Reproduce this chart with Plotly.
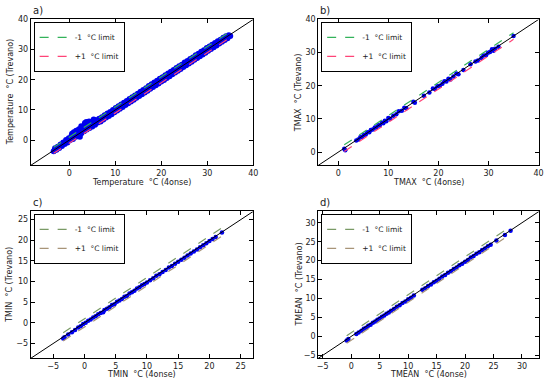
import numpy as np
import plotly.graph_objects as go

# ---------------- data ----------------
xa = [-3.4,-3.1,-2.8,-2.5,-2.2,-1.9,-1.6,-1.3,-1.0,-0.7,-0.4,-0.1,0.2,0.5,0.8,1.1,1.4,1.7,2.0,2.3,
      2.6,2.9,3.2,3.5,3.8,4.1,4.4,4.7,5.0,5.3,5.6,5.9,6.2,6.5,6.8,7.1,7.4,7.7,8.0,8.3,
      8.6,8.9,9.2,9.5,9.8,10.1,10.4,10.7,11.0,11.3,11.6,11.9,12.2,12.5,12.8,13.1,13.4,13.7,14.0,14.3,
      14.6,14.9,15.2,15.5,15.8,16.1,16.4,16.7,17.0,17.3,17.6,17.9,18.2,18.5,18.8,19.1,19.4,19.7,20.0,20.3,
      20.6,20.9,21.2,21.5,21.8,22.1,22.4,22.7,23.0,23.3,23.6,23.9,24.2,24.5,24.8,25.1,25.4,25.7,26.0,26.3,
      26.6,26.9,27.2,27.5,27.8,28.1,28.4,28.7,29.0,29.3,29.6,29.9,30.2,30.5,30.8,31.1,31.4,31.7,32.0,32.3,
      32.6,32.9,33.2,33.5,33.8,34.1,34.4,34.7,35.0,
      1.5,2.1,2.6,3.1,3.4,3.9,4.3,4.6,1.0,0.6,3.7,5.3,2.3]
ya = [-3.7,-2.7,-3.2,-2.2,-2.6,-1.5,-2.0,-0.8,-1.3,0.0,-0.8,0.6,0.0,1.4,0.4,2.0,1.1,2.6,1.6,3.4,
      2.3,4.1,2.9,4.8,3.5,5.2,4.0,5.6,4.5,5.9,5.1,6.6,5.8,7.1,6.2,7.6,6.8,8.2,7.5,8.8,
      8.0,9.3,8.6,10.0,9.2,10.6,9.8,11.2,10.4,11.8,11.0,12.4,11.6,13.0,12.2,13.6,12.8,14.2,13.4,14.8,
      14.0,15.4,14.6,16.0,15.2,16.6,15.8,17.2,16.4,17.9,17.0,18.5,17.6,19.1,18.2,19.7,18.8,20.3,19.4,20.8,
      19.9,21.5,20.6,22.1,21.2,22.7,21.8,23.2,22.4,23.9,23.0,24.5,23.6,25.0,24.2,25.7,24.8,26.2,25.4,26.9,
      26.0,27.4,26.6,28.1,27.2,28.6,27.8,29.3,28.4,29.8,29.0,30.5,29.6,31.0,30.2,31.6,30.8,32.2,31.4,32.8,
      32.0,33.3,32.6,33.9,33.2,34.4,33.8,34.8,34.5,
      3.1,3.6,4.6,4.1,5.7,5.0,6.2,5.6,2.6,2.1,6.0,6.8,1.1]

xb = [1.2,1.4,3.6,4.0,4.4,4.8,5.1,5.5,5.8,6.2,6.5,6.9,7.3,7.6,8.0,8.3,8.7,9.0,9.3,9.6,
      10.0,10.4,11.0,11.6,12.1,12.7,13.2,13.6,15.0,15.3,17.1,18.2,18.9,19.3,19.8,20.3,20.8,21.2,21.6,22.0,
      22.4,23.0,23.6,24.0,25.0,26.4,27.4,27.9,28.6,29.0,29.5,29.9,30.3,30.7,31.0,31.3,32.0,35.0]
yb = [1.0,0.6,3.5,3.8,4.5,4.6,5.2,5.3,6.0,6.0,6.7,6.8,7.4,7.4,8.1,8.0,8.9,8.7,9.5,9.3,
      10.3,10.1,11.0,11.4,12.3,12.5,13.4,13.2,15.2,14.9,17.0,18.0,19.2,19.0,19.9,20.0,20.6,21.4,21.3,22.1,
      21.9,22.8,23.7,23.5,24.8,26.5,27.3,27.6,28.4,29.1,29.2,30.0,30.2,31.0,30.6,31.2,31.8,35.0]

xc = [-3.4,-3.2,-2.6,-2.0,-1.5,-1.0,-0.6,-0.2,0.2,0.6,1.0,1.4,1.8,2.2,2.6,3.0,3.2,3.6,4.0,4.4,
      4.8,5.2,5.6,6.0,6.4,6.8,7.2,7.6,8.0,8.4,8.8,9.2,9.6,10.0,10.5,11.0,11.5,12.0,12.5,13.0,
      13.5,14.0,14.5,15.0,15.5,16.0,16.5,17.0,17.5,18.0,18.5,19.0,19.5,20.0,20.5,21.0,22.0]
yc = [-3.8,-3.5,-2.8,-2.3,-1.7,-1.1,-0.8,-0.3,0.0,0.5,0.8,1.3,1.6,2.1,2.4,2.6,3.1,3.4,3.8,4.3,
      4.5,5.1,5.4,5.8,6.3,6.5,7.1,7.4,7.8,8.3,8.6,9.1,9.4,9.8,10.3,10.8,11.4,11.8,12.3,12.8,
      13.4,13.8,14.3,14.8,15.3,15.8,16.3,16.8,17.3,17.8,18.3,18.8,19.3,19.8,20.3,20.8,21.9]

xd = [-0.8,-0.5,0.9,1.3,1.8,2.2,2.6,3.0,3.4,3.8,4.2,4.6,5.0,5.4,5.8,6.2,6.6,7.0,7.5,8.0,
      8.5,9.0,9.5,10.0,10.5,11.0,12.5,13.0,13.5,14.0,14.5,15.0,15.5,16.0,16.5,17.0,17.5,18.0,18.5,19.0,
      19.5,20.0,20.5,21.0,21.5,22.0,22.5,23.0,23.5,24.0,24.5,25.5,27.0,28.0]
yd = [-1.1,-0.7,0.6,1.0,1.5,2.0,2.3,2.8,3.1,3.6,3.9,4.4,4.7,5.2,5.5,6.0,6.3,6.8,7.2,7.8,
      8.2,8.8,9.2,9.8,10.2,10.8,12.3,12.7,13.3,13.7,14.3,14.7,15.2,15.8,16.2,16.8,17.2,17.8,18.2,18.8,
      19.2,19.7,20.2,20.8,21.2,21.8,22.2,22.8,23.2,23.8,24.2,25.3,26.8,27.9]

panel_labels = ["a)", "b)", "c)", "d)"]
x_titles = ["Temperature  °C (4onse)", "TMAX  °C (4onse)", "TMIN  °C (4onse)", "TMEAN  °C (4onse)"]
y_titles = ["Temperature  °C (Trevano)", "TMAX  °C (Trevano)", "TMIN  °C (Trevano)", "TMEAN  °C (Trevano)"]
x_ticks = [[0, 10, 20, 30, 40], [0, 10, 20, 30, 40], [-5, 0, 5, 10, 15, 20, 25], [-5, 0, 5, 10, 15, 20, 25, 30]]
y_ticks = [[0, 10, 20, 30, 40], [0, 10, 20, 30, 40], [-5, 0, 5, 10, 15, 20, 25], [-5, 0, 5, 10, 15, 20, 25, 30]]
ranges = [[-8.4, 40], [-4, 40], [-8.6, 27], [-5.8, 33]]

# ---------------- figure ----------------
W, H = 550, 383
FONT = "DejaVu Sans"
TXT = "#222"
fig = go.Figure()

panels = [(xa, ya), (xb, yb), (xc, yc), (xd, yd)]
# pixel boxes [x0, x1, ytop, ybottom]
boxes = [(30, 255, 15.7, 164), (320.7, 543.5, 15.7, 164), (30, 255, 210.7, 360), (320.7, 544, 210.7, 360)]
xtitle_y = [181, 181, 376, 376]
ytitle_x = [10, 301, 9, 302]
up_cols = ["#33b25a", "#33b25a", "#7a9a66", "#7a9a66"]
lo_cols = ["#ff4477", "#ff4477", "#a89478", "#a89478"]
msizes = [6, 4.5, 4.5, 4.5]

for i, (xs, ys) in enumerate(panels):
    n = "" if i == 0 else str(i + 1)
    xr, yr = "x" + n, "y" + n
    leg = "legend" + n
    x0, x1, yt, yb_ = boxes[i]
    axcommon = dict(showline=True, linecolor="black", linewidth=1, mirror="ticks",
                    ticks="inside", ticklen=4, tickcolor="black", showgrid=False, zeroline=False,
                    tickfont=dict(size=8, color=TXT, family=FONT))
    fig.update_layout({
        "xaxis" + n: dict(domain=[x0 / W, x1 / W], anchor=yr, range=ranges[i], tickvals=x_ticks[i], **axcommon),
        "yaxis" + n: dict(domain=[1 - yb_ / H, 1 - yt / H], anchor=xr, range=ranges[i], tickvals=y_ticks[i], **axcommon),
        leg: dict(x=(x0 + 3) / W, y=1 - (yt + 2.5) / H, xanchor="left", yanchor="top",
                  bordercolor="black", borderwidth=1, bgcolor="white",
                  font=dict(size=7.5, color=TXT, family=FONT), itemwidth=30, tracegroupgap=0,
                  itemclick=False),
    })
    lo, hi = min(xs), max(xs)
    lim_x = np.array([lo, hi])
    r = ranges[i]
    diag = np.array([r[0] - 2, r[1] + 2])
    fig.add_trace(go.Scatter(x=xs, y=ys, mode="markers", xaxis=xr, yaxis=yr, showlegend=False,
                             marker=dict(color="#0000ee", size=msizes[i], line=dict(width=0)),
                             legend=leg))
    fig.add_trace(go.Scatter(x=diag, y=diag, mode="lines", xaxis=xr, yaxis=yr, showlegend=False,
                             line=dict(color="black", width=1), legend=leg))
    fig.add_trace(go.Scatter(x=lim_x, y=lim_x + 1, mode="lines", xaxis=xr, yaxis=yr,
                             name="-1  °C limit", legend=leg,
                             line=dict(color=up_cols[i], width=1.2, dash="dash")))
    fig.add_trace(go.Scatter(x=lim_x, y=lim_x - 1, mode="lines", xaxis=xr, yaxis=yr,
                             name="+1  °C limit", legend=leg,
                             line=dict(color=lo_cols[i], width=1.2, dash="dash")))
    fig.add_annotation(text=panel_labels[i], xref="paper", yref="paper", x=x0 / W, y=1 - (yt - 1) / H,
                       xanchor="left", yanchor="bottom", showarrow=False,
                       font=dict(size=10, color=TXT, family=FONT))
    fig.add_annotation(text=x_titles[i], xref="paper", yref="paper", x=(x0 + x1) / 2 / W,
                       y=1 - xtitle_y[i] / H, xanchor="center", yanchor="middle", showarrow=False,
                       font=dict(size=8, color=TXT, family=FONT))
    fig.add_annotation(text=y_titles[i], xref="paper", yref="paper", x=ytitle_x[i] / W,
                       y=1 - (yt + yb_) / 2 / H, xanchor="center", yanchor="middle", showarrow=False,
                       textangle=-90, font=dict(size=8, color=TXT, family=FONT))

fig.update_layout(width=W, height=H, margin=dict(l=0, r=0, t=0, b=0),
                  paper_bgcolor="white", plot_bgcolor="white", font=dict(family=FONT))

fig.write_html("out.html", config={"displayModeBar": False},
               post_script="document.body.style.margin='0';document.body.style.padding='0';"
                           "document.body.style.overflow='hidden';")
